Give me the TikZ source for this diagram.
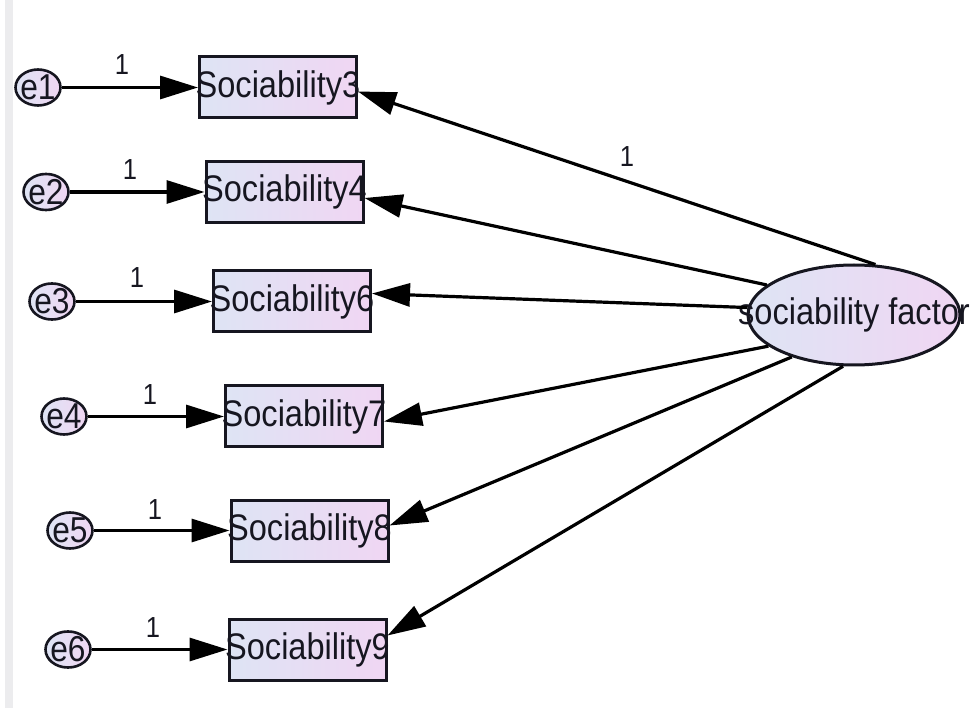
\documentclass[tikz,border=0pt]{standalone}
\usepackage{fontspec}
\setmainfont{Liberation Sans}[FakeStretch=0.88]
\usetikzlibrary{arrows.meta,calc,shapes.geometric}
\definecolor{inkc}{RGB}{22,22,32}
\definecolor{fillL}{RGB}{222,228,244}
\definecolor{fillR}{RGB}{240,214,243}
\definecolor{stripc}{RGB}{236,236,238}
\tikzset{
  obs/.style={draw=inkc, line width=3pt, left color=fillL, right color=fillR,
    minimum width=157pt, minimum height=61pt, inner sep=0pt, text=inkc,
    font=\fontsize{37}{42}\selectfont},
  err/.style={draw=inkc, line width=2.6pt, ellipse, left color=fillL, right color=fillR,
    minimum width=45pt, minimum height=36pt, inner sep=0pt, text=inkc,
    font=\fontsize{36}{40}\selectfont},
  lat/.style={draw=inkc, line width=3pt, ellipse, left color=fillL, right color=fillR,
    minimum width=212pt, minimum height=100pt, inner sep=0pt, text=inkc,
    font=\fontsize{37}{42}\selectfont},
  path1/.style={draw=black, line width=3.2pt, -{Triangle[length=38pt,width=23pt]}},
  lbl/.style={text=inkc, inner sep=0pt, font=\fontsize{29}{32}\selectfont}
}
\begin{document}
\begin{tikzpicture}[x=1pt,y=-1pt]
\useasboundingbox (0,0) rectangle (975,708);
% light side strip
\fill[stripc] (5,0) rectangle (13,708);

% observed indicators
\node[obs] (s3) at (278,87.5)   {\makebox[0pt]{Sociability3}};
\node[obs] (s4) at (284.5,192)  {\makebox[0pt]{Sociability4}};
\node[obs] (s6) at (292,301.5)  {\makebox[0pt]{Sociability6}};
\node[obs] (s7) at (304,416.5)  {\makebox[0pt]{Sociability7}};
\node[obs] (s8) at (309.5,530.5){\makebox[0pt]{Sociability8}};
\node[obs] (s9) at (307.5,649.5){\makebox[0pt]{Sociability9}};

% error terms
\node[err] (e1) at (38,87.5)  {\makebox[0pt]{e1}};
\node[err] (e2) at (46,192)   {\makebox[0pt]{e2}};
\node[err] (e3) at (52,301.5) {\makebox[0pt]{e3}};
\node[err] (e4) at (64,416.5) {\makebox[0pt]{e4}};
\node[err] (e5) at (70,530.5) {\makebox[0pt]{e5}};
\node[err] (e6) at (68,649.5) {\makebox[0pt]{e6}};

% latent factor
\node[lat] (fac) at (854,315) {\makebox[0pt]{sociability factor}};

% error paths
\draw[path1] (e1.east) -- (e1.east -| s3.west);
\draw[path1] (e2.east) -- (e2.east -| s4.west);
\draw[path1] (e3.east) -- (e3.east -| s6.west);
\draw[path1] (e4.east) -- (e4.east -| s7.west);
\draw[path1] (e5.east) -- (e5.east -| s8.west);
\draw[path1] (e6.east) -- (e6.east -| s9.west);

% loadings
\draw[path1] (fac.67)    -- ($(s3.east)+(0,4)$);
\draw[path1] (fac.161.4) -- ($(s4.east)+(0,6)$);
\draw[path1] (fac.176)   -- ($(s6.east)+(0,-8)$);
\draw[path1] (fac.200.4) -- ($(s7.east)+(0,5)$);
\draw[path1] (fac.214)   -- ($(s8.east)+(0,-5)$);
\draw[path1] (fac.258)   -- ($(s9.east)+(0,-14)$);

% fixed path labels
\node[lbl] (l1) at (122,65)  {1};
\node[lbl] (l2) at (130,170) {1};
\node[lbl] (l3) at (137,278) {1};
\node[lbl] (l4) at (150,395) {1};
\node[lbl] (l5) at (155,510) {1};
\node[lbl] (l6) at (153,628) {1};
\node[lbl] (l7) at (627,157) {1};
\end{tikzpicture}
\end{document}
